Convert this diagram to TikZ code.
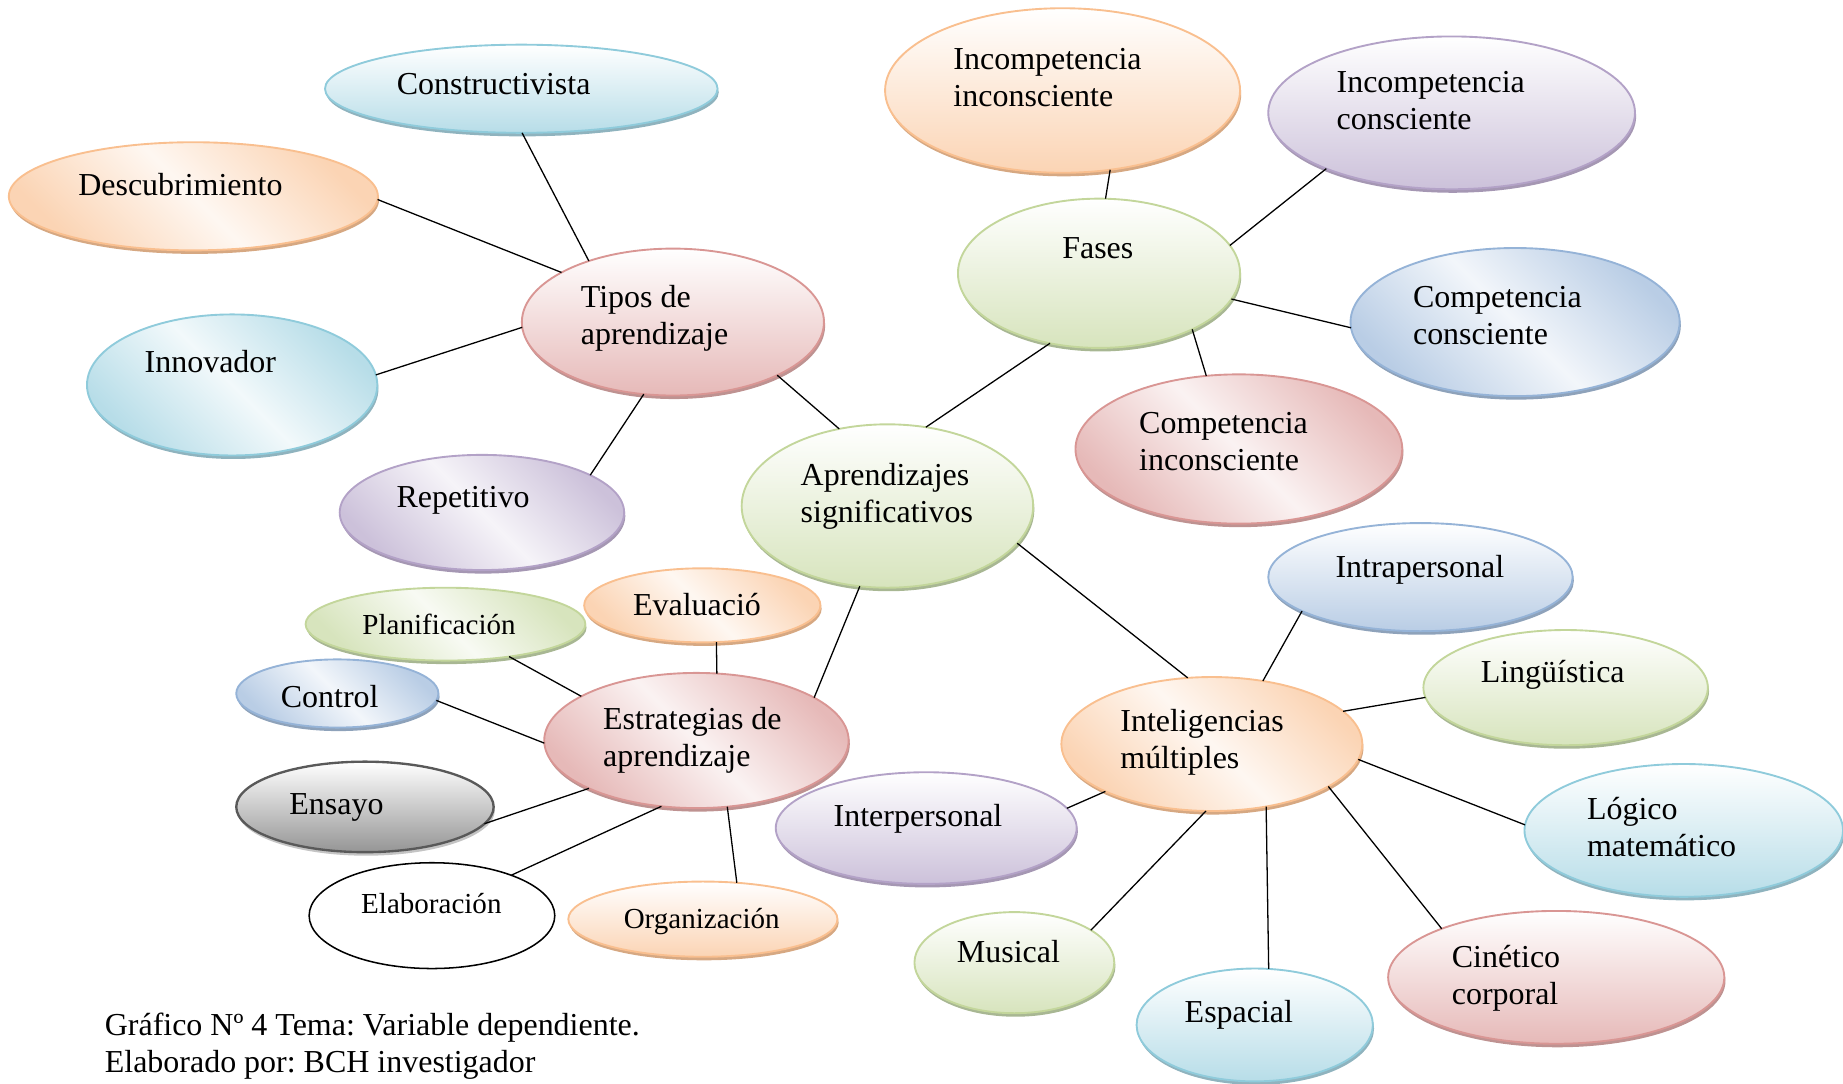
\documentclass[tikz,border=0pt]{standalone}
\usepackage{fontspec}
\setmainfont{Liberation Serif}
\frenchspacing
\usetikzlibrary{shapes.geometric,shadows}
\definecolor{tealB}{HTML}{8FCBDB}\definecolor{tealF}{HTML}{B7DDE8}\definecolor{tealS}{HTML}{8FB3BE}
\definecolor{oraB}{HTML}{F9BF8F}\definecolor{oraF}{HTML}{FBD4B4}\definecolor{oraS}{HTML}{D6A882}
\definecolor{purB}{HTML}{B3A2C7}\definecolor{purF}{HTML}{CCC1DA}\definecolor{purS}{HTML}{A597B3}
\definecolor{redB}{HTML}{D99694}\definecolor{redF}{HTML}{E6B9B8}\definecolor{redS}{HTML}{BE9291}
\definecolor{grnB}{HTML}{C3D69B}\definecolor{grnF}{HTML}{D7E4BD}\definecolor{grnS}{HTML}{A8B793}
\definecolor{bluB}{HTML}{95B3D7}\definecolor{bluF}{HTML}{B9CDE5}\definecolor{bluS}{HTML}{8EA2BA}
\definecolor{gryB}{HTML}{595959}\definecolor{gryF}{HTML}{959595}\definecolor{gryS}{HTML}{C4C4C4}
\newcommand\twol[2]{\begin{tabular}[t]{@{}l@{}}#1\\#2\end{tabular}}
\tikzset{
  ell/.style 2 args={ellipse, minimum width=#1pt, minimum height=#2pt, inner sep=0pt, outer sep=0pt, line width=1.6pt},
  fam/.style n args={3}{draw=#1, top color=white, bottom color=#2,
     general shadow={fill=#3, shadow xshift=1pt, shadow yshift=-3pt}},
  dg/.style={top color=#1, bottom color=#1, middle color=#1!18!white, shading angle=-45},
  cTeal/.style={fam={tealB}{tealF}{tealS}}, cTealD/.style={cTeal, dg=tealF},
  cOra/.style={fam={oraB}{oraF}{oraS}},     cOraD/.style={cOra, dg=oraF},
  cPur/.style={fam={purB}{purF}{purS}},     cPurD/.style={cPur, dg=purF},
  cRed/.style={fam={redB}{redF}{redS}},     cRedD/.style={cRed, dg=redF},
  cGrn/.style={fam={grnB}{grnF}{grnS}},     cGrnD/.style={cGrn, dg=grnF},
  cBlu/.style={fam={bluB}{bluF}{bluS}},     cBluD/.style={cBlu, dg=bluF},
  cGry/.style={fam={gryB}{gryF}{gryS}},
  conn/.style={line width=1.1pt, black},
  t/.style={font=\fontsize{27.2}{31.5}\selectfont, inner sep=0pt},
  ts/.style={font=\fontsize{24.7}{29}\selectfont, inner sep=0pt},
}
\begin{document}
\begin{tikzpicture}[x=1pt,y=-1pt]
\useasboundingbox (0,0) rectangle (1568,922);
% ellipses
\node[ell={334}{75}, cTeal] (constr) at (443.5,75.5) {};
\node[ell={314}{92}, cOraD] (desc) at (164.5,167) {};
\node[ell={247}{120}, cTealD] (innov) at (197.5,327.5) {};
\node[ell={242}{98}, cPurD] (repet) at (410,436) {};
\node[ell={257}{125}, cRed] (tipos) at (572.5,274) {};
\node[ell={248}{139}, cGrn] (aprend) at (755,430.5) {};
\node[ell={240}{127}, cGrn] (fases) at (935,232.5) {};
\node[ell={302}{140}, cOra] (iinc) at (904,77) {};
\node[ell={312}{130}, cPur] (icon) at (1235,96) {};
\node[ell={280}{126}, cBluD] (ccon) at (1289,274) {};
\node[ell={278}{127}, cRedD] (cinc) at (1054,382) {};
\node[ell={259}{115}, cRedD] (estr) at (592.5,630) {};
\node[ell={238}{62}, cGrnD] (plan) at (379,531) {};
\node[ell={201}{63}, cOraD] (eval) at (597.5,515) {};
\node[ell={172}{58}, cBluD] (ctrl) at (287,590) {};
\node[ell={219}{77}, cGry, line width=2pt] (ensayo) at (310.5,686.5) {};
\node[ell={209}{90}, draw=black, fill=white, line width=1.3pt] (elab) at (367.5,779) {};
\node[ell={229}{64}, cOra] (organ) at (598,782) {};
\node[ell={256}{114}, cOraD] (intel) at (1031,633) {};
\node[ell={259}{92}, cBlu] (intra) at (1208.5,491) {};
\node[ell={242}{98}, cGrn] (ling) at (1332,585) {};
\node[ell={271}{113}, cTeal] (logico) at (1432.5,706.5) {};
\node[ell={286}{113}, cRed] (cinet) at (1324,831.5) {};
\node[ell={201}{96}, cTeal] (espac) at (1067.5,872) {};
\node[ell={170}{86}, cGrn] (music) at (863,819) {};
\node[ell={256}{95}, cPur] (interp) at (788,704.5) {};
% connectors
\draw[conn] (constr.-89) -- (tipos.144);
\draw[conn] (desc.-1) -- (tipos.156);
\draw[conn] (innov.4) -- (tipos.182);
\draw[conn] (repet.19) -- (tipos.248);
\draw[conn] (tipos.-27) -- (aprend.122);
\draw[conn] (aprend.64) -- (fases.235);
\draw[conn] (fases.85) -- (iinc.-59);
\draw[conn] (fases.12) -- (icon.204);
\draw[conn] (fases.-11) -- (ccon.182);
\draw[conn] (fases.-31) -- (cinc.114);
\draw[conn] (aprend.251) -- (estr.20);
\draw[conn] (aprend.-16) -- (intel.110);
\draw[conn] (plan.-27) -- (estr.159);
\draw[conn] (eval.-69) -- (estr.73);
\draw[conn] (ctrl.-4) -- (estr.181);
\draw[conn] (ensayo.-8) -- (estr.204);
\draw[conn] (elab.27) -- (estr.242);
\draw[conn] (organ.47) -- (estr.-65);
\draw[conn] (intel.51) -- (intra.196);
\draw[conn] (intel.14) -- (ling.184);
\draw[conn] (intel.-6) -- (logico.178);
\draw[conn] (intel.-20) -- (cinet.157);
\draw[conn] (intel.-49) -- (espac.76);
\draw[conn] (intel.-95) -- (music.23);
\draw[conn] (intel.204) -- (interp.8);
% texts
\node[t, anchor=base] (constr-t) at (420,80) {Constructivista};
\node[t, anchor=base] (desc-t) at (153.5,166) {Descubrimiento};
\node[t, anchor=base] (innov-t) at (179,317) {Innovador};
\node[t, anchor=base] (repet-t) at (394,432) {Repetitivo};
\node[t, anchor=base west] (tipos-t) at (494,262) {\twol{Tipos de}{aprendizaje}};
\node[t, anchor=base west] (aprend-t) at (681,413) {\twol{Aprendizajes}{significativos}};
\node[t, anchor=base] (fases-t) at (934,220) {Fases};
\node[t, anchor=base west] (iinc-t) at (811,59) {\twol{Incompetencia}{inconsciente}};
\node[t, anchor=base west] (icon-t) at (1137,79) {\twol{Incompetencia}{consciente}};
\node[t, anchor=base west] (ccon-t) at (1202,262) {\twol{Competencia}{consciente}};
\node[t, anchor=base west] (cinc-t) at (969,369) {\twol{Competencia}{inconsciente}};
\node[t, anchor=base west] (estr-t) at (513,621) {\twol{Estrategias de}{aprendizaje}};
\node[ts, anchor=base] (plan-t) at (373.5,540) {Planificación};
\node[t, anchor=base] (eval-t) at (593,524) {Evaluació};
\node[t, anchor=base] (ctrl-t) at (280.5,602) {Control};
\node[t, anchor=base west] (ensayo-t) at (246,693) {Ensayo};
\node[ts, anchor=base] (elab-t) at (367,777) {Elaboración};
\node[ts, anchor=base] (organ-t) at (597,790) {Organización};
\node[t, anchor=base west] (intel-t) at (953,622) {\twol{Inteligencias}{múltiples}};
\node[t, anchor=base] (intra-t) at (1208,491) {Intrapersonal};
\node[t, anchor=base] (ling-t) at (1321,581) {Lingüística};
\node[t, anchor=base west] (logico-t) at (1350,697) {\twol{Lógico}{matemático}};
\node[t, anchor=base west] (cinet-t) at (1235,823) {\twol{Cinético}{corporal}};
\node[t, anchor=base] (espac-t) at (1054,870) {Espacial};
\node[t, anchor=base] (music-t) at (858,819) {Musical};
\node[t, anchor=base] (interp-t) at (781,703) {Interpersonal};
\node[t, anchor=base west] (cap) at (89,881) {\twol{Gráfico Nº 4 Tema: Variable dependiente.}{Elaborado por: BCH investigador}};
\end{tikzpicture}
\end{document}
